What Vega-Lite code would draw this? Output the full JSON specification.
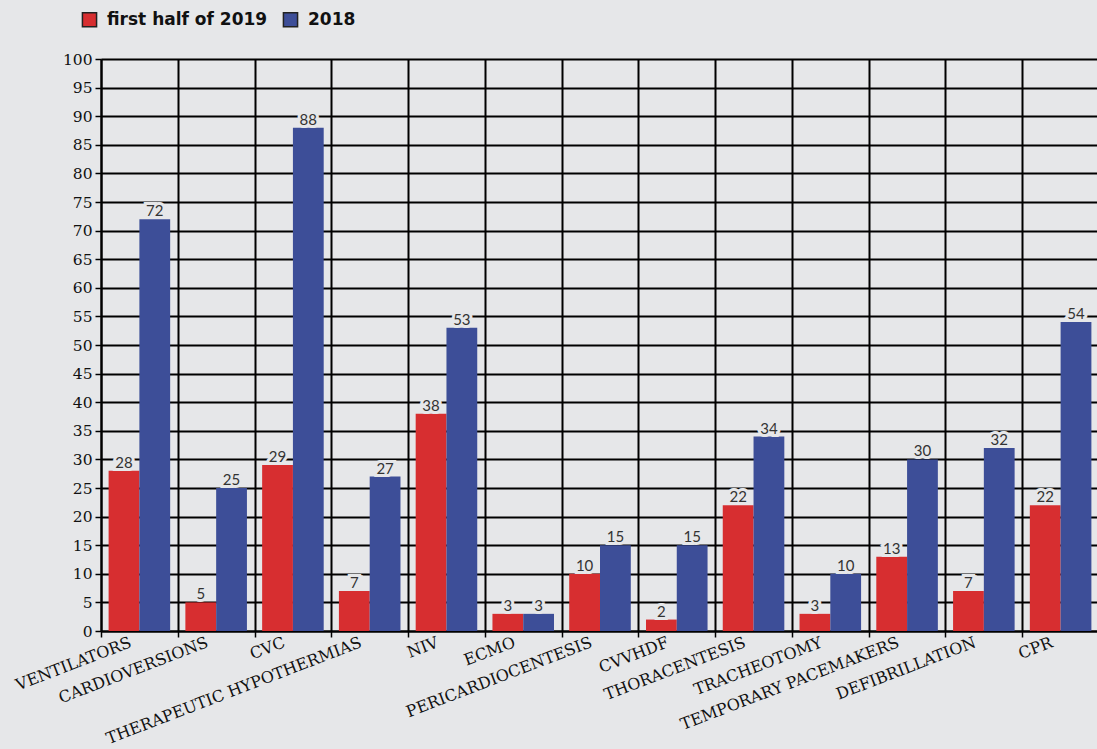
{
  "$schema": "https://vega.github.io/schema/vega-lite/v6.json",
  "autosize": "none",
  "width": 998,
  "height": 572,
  "padding": {"left": 101, "top": 59, "right": 0, "bottom": 118},
  "background": "#e6e7e9",
  "config": {"view": {"stroke": null, "fill": "#e6e7e9"}},
  "data": {"values": [
    {"procedure": "VENTILATORS", "period": "first half of 2019", "count": 28},
    {"procedure": "VENTILATORS", "period": "2018", "count": 72},
    {"procedure": "CARDIOVERSIONS", "period": "first half of 2019", "count": 5},
    {"procedure": "CARDIOVERSIONS", "period": "2018", "count": 25},
    {"procedure": "CVC", "period": "first half of 2019", "count": 29},
    {"procedure": "CVC", "period": "2018", "count": 88},
    {"procedure": "THERAPEUTIC HYPOTHERMIAS", "period": "first half of 2019", "count": 7},
    {"procedure": "THERAPEUTIC HYPOTHERMIAS", "period": "2018", "count": 27},
    {"procedure": "NIV", "period": "first half of 2019", "count": 38},
    {"procedure": "NIV", "period": "2018", "count": 53},
    {"procedure": "ECMO", "period": "first half of 2019", "count": 3},
    {"procedure": "ECMO", "period": "2018", "count": 3},
    {"procedure": "PERICARDIOCENTESIS", "period": "first half of 2019", "count": 10},
    {"procedure": "PERICARDIOCENTESIS", "period": "2018", "count": 15},
    {"procedure": "CVVHDF", "period": "first half of 2019", "count": 2},
    {"procedure": "CVVHDF", "period": "2018", "count": 15},
    {"procedure": "THORACENTESIS", "period": "first half of 2019", "count": 22},
    {"procedure": "THORACENTESIS", "period": "2018", "count": 34},
    {"procedure": "TRACHEOTOMY", "period": "first half of 2019", "count": 3},
    {"procedure": "TRACHEOTOMY", "period": "2018", "count": 10},
    {"procedure": "TEMPORARY PACEMAKERS", "period": "first half of 2019", "count": 13},
    {"procedure": "TEMPORARY PACEMAKERS", "period": "2018", "count": 30},
    {"procedure": "DEFIBRILLATION", "period": "first half of 2019", "count": 7},
    {"procedure": "DEFIBRILLATION", "period": "2018", "count": 32},
    {"procedure": "CPR", "period": "first half of 2019", "count": 22},
    {"procedure": "CPR", "period": "2018", "count": 54}
  ]},
  "encoding": {
    "x": {
      "field": "procedure", "type": "nominal", "sort": null,
      "scale": {"paddingInner": 0, "paddingOuter": 0},
      "axis": {
        "title": null, "grid": true, "gridColor": "#000", "gridWidth": 2, "gridOpacity": 1,
        "tickBand": "extent", "ticks": true, "tickColor": "#000", "tickSize": 6, "tickWidth": 1.5,
        "domain": true, "domainColor": "#000", "domainWidth": 2,
        "labelAngle": -21, "labelAlign": "right", "labelBaseline": "top",
        "labelFont": "DejaVu Serif", "labelFontSize": 16, "labelColor": "#111",
        "labelPadding": -3, "labelOffset": -12, "labelOverlap": false, "labelLimit": 400
      }
    },
    "xOffset": {"field": "period", "type": "nominal", "sort": ["first half of 2019", "2018"], "scale": {"paddingInner": 0, "paddingOuter": 0.247}},
    "y": {
      "field": "count", "type": "quantitative",
      "scale": {"domain": [0, 100], "nice": false},
      "axis": {
        "title": null, "values": [0,5,10,15,20,25,30,35,40,45,50,55,60,65,70,75,80,85,90,95,100],
        "grid": true, "gridColor": "#000", "gridWidth": 2, "gridOpacity": 1,
        "domain": true, "domainColor": "#000", "domainWidth": 2,
        "ticks": true, "tickColor": "#000", "tickSize": 6, "tickWidth": 1.5,
        "labelFont": "DejaVu Serif", "labelFontSize": 15.5, "labelColor": "#111", "labelPadding": 3
      }
    }
  },
  "layer": [
    {
      "mark": {"type": "bar", "strokeWidth": 1},
      "encoding": {
        "color": {
          "field": "period", "type": "nominal",
          "scale": {"domain": ["first half of 2019", "2018"], "range": ["#d72e30", "#3d4e98"]},
          "legend": {
            "title": null, "orient": "none", "direction": "horizontal",
            "legendX": -20, "legendY": -48, "labelLimit": 400,
            "symbolType": "square", "symbolSize": 200, "symbolStrokeColor": "#222", "symbolStrokeWidth": 1.5,
            "labelFont": "DejaVu Sans", "labelFontWeight": "bold", "labelFontSize": 17, "labelColor": "#111",
            "columnPadding": 12, "symbolOffset": 0, "labelOffset": 9
          }
        }
      }
    },
    {
      "mark": {"type": "text", "baseline": "alphabetic", "dy": -3, "font": "Lato", "fontSize": 15,
               "stroke": "#e6e7e9", "strokeWidth": 6, "fill": "#e6e7e9", "strokeJoin": "miter"},
      "encoding": {"text": {"field": "count", "type": "quantitative"}}
    },
    {
      "mark": {"type": "text", "baseline": "alphabetic", "dy": -3, "font": "Lato", "fontSize": 15, "fill": "#333"},
      "encoding": {"text": {"field": "count", "type": "quantitative"}}
    }
  ]
}
